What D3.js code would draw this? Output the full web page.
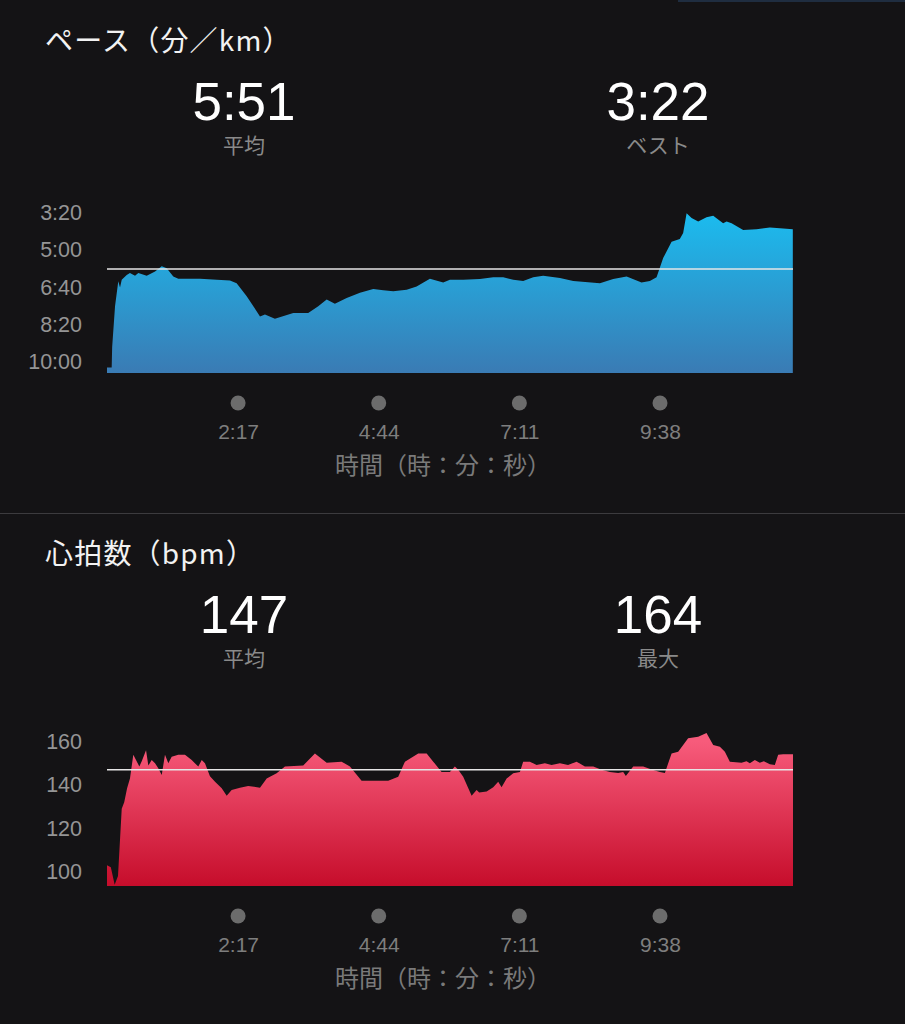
<!DOCTYPE html>
<html><head><meta charset="utf-8">
<script src="https://cdn.jsdelivr.net/npm/d3@7"></script>
<style>
html,body{margin:0;padding:0;background:#141315;}
svg{display:block;}
</style>
</head><body>
<svg id="chart" width="905" height="1024"></svg>
<script>
// ---------- data ----------
const paceTime  = [0,4.9,5.4,8.4,11.8,13.6,15.4,20.6,24,29.3,32.7,41.5,50.2,57.2,62.4,69.3,74.5,81.5,97.2,114.6,128.5,135.5,146,159.9,165.1,175.5,194.7,210.3,220.8,229.6,238.2,250.5,264.4,278.3,288.7,299.2,313.2,323.6,337.5,351.4,358.4,372.3,389.8,403.7,414.1,424.6,435,445.5,455.9,473.4,487.3,515.2,529.1,543.1,558.7,567.4,574.4,581.3,590.1,598.7,602.2,605.8,611,617.9,626.6,633.6,644,647.6,652.8,664.9,678.9,692.8,703.3,716.8];
const paceValue = [615,615,560,451,384,401,380,367,362,369,362,369,358,344,349,371,377,377,377,380,382,389,424,478,473,484,469,469,451,433,444,429,415,405,408,411,407,398,377,387,380,380,378,373,373,380,383,373,369,375,383,389,378,371,387,383,373,322,278,271,255,202,215,224,213,209,229,224,229,247,245,240,242,245];
const paceTicks = [200,300,400,500,600];
const paceAvg = 351;

const hrTime  = [0,4,8,11.5,15.4,18,21,24,27.5,31,33.8,36.3,40.8,43.2,46.7,50.2,53.6,57.2,60.6,64.1,67.6,74.5,81.5,88.5,95.4,99,102.4,107.6,112.9,119.9,125.1,130.3,139,147.6,159.9,166.9,177.3,186,205.1,217.3,229.6,245.2,253.9,266.1,293.9,304.4,311.4,325.3,334.1,341,349.7,358.4,363.6,367.1,372.3,381.1,386.3,389,396.8,403.7,408.9,412.4,417.7,424.6,431.6,435,442,449,457.7,464.7,473.4,481.9,490.8,499.5,508.2,516.9,525.6,534.3,539.5,542.3,550,560.4,569.2,577.9,583.1,590.1,597,607.4,617.9,626.6,633.6,640.6,645.8,651,663.2,668.4,671.9,677.1,682.3,686.5,692.8,698,701.5,706.7,717];
const hrValue = [103,102,94,98,129,132,138.5,143,154,151,148.5,151,156,149,151.5,150,147.7,144.6,154,150,153,154,154,151.5,148.5,151.5,150,144,141.5,138.5,135,137.7,138.8,139.6,138.8,143,145.4,148.5,149,154.6,150.3,150.8,148.5,142,142,143.8,150.8,154.6,154.6,150.8,146,146,148.5,147,143.8,135,137.7,136.5,137,139,141.5,139,143,145.4,146,150.8,150.8,149.2,150,149.2,150,149.2,150.8,148.5,148.5,147,146,145.6,146,144.2,148.5,148.5,147.2,146,145.6,154.6,155.4,161.6,162.3,164,158.5,157.7,155.4,150.8,150.3,151,150,151.5,150.3,151,149.6,149.2,154,154.2,154.2];
const hrTicks = [100,120,140,160];
const hrAvg = 147;

const timeTicks = [137,284,431,578];
const timeEnd = 717;

const sections = [
  {title:"ペース（分／km）", stats:["5:51","3:22"], statLabels:["平均","ベスト"],
   time:paceTime, values:paceValue, ticks:paceTicks, avg:paceAvg,
   domain:[200,600], range:[212.5,362], fmt:d=>Math.floor(d/60)+":"+String(d%60).padStart(2,"0"),
   grad:["#1bbcef","#3a7bb4"], id:"gPace"},
  {title:"心拍数（bpm）", stats:["147","164"], statLabels:["平均","最大"],
   time:hrTime, values:hrValue, ticks:hrTicks, avg:hrAvg,
   domain:[100,160], range:[358.7,228.7], fmt:d=>String(d),
   grad:["#f75b7b","#c60d2b"], id:"gHr"}
];

// ---------- drawing ----------
const svg = d3.select("#chart");
const FONT = "'Liberation Sans','Noto Sans CJK JP',sans-serif";
const JFONT = "'Noto Sans CJK JP','Liberation Sans',sans-serif";
const plotLeft = 107, plotRight = 793, plotBottom = 373, sectionGap = 513;

svg.append("rect").attr("width",905).attr("height",1024).attr("fill","#141315");
svg.append("rect").attr("x",678).attr("y",0).attr("width",227).attr("height",2).attr("fill","#1f2d40");
svg.append("line").attr("x1",0).attr("x2",905).attr("y1",sectionGap+0.5).attr("y2",sectionGap+0.5)
   .attr("stroke","#3c3b3e").attr("stroke-width",1);

const x = d3.scaleLinear().domain([0,timeEnd]).range([plotLeft,plotRight]);
const defs = svg.append("defs");
const fmtTime = t => Math.floor(t/60)+":"+String(t%60).padStart(2,"0");

sections.forEach((s,i)=>{
  const g = svg.append("g").attr("transform",`translate(0,${i*sectionGap})`);
  const y = d3.scaleLinear().domain(s.domain).range(s.range);
  const data = s.time.map((t,k)=>({t, v:s.values[k]}));

  // gradient in the user space of the (translated) path
  const gr = defs.append("linearGradient").attr("id",s.id)
    .attr("gradientUnits","userSpaceOnUse").attr("x1",0).attr("x2",0)
    .attr("y1",Math.min(...s.range)).attr("y2",plotBottom);
  gr.append("stop").attr("offset","0%").attr("stop-color",s.grad[0]);
  gr.append("stop").attr("offset","100%").attr("stop-color",s.grad[1]);

  // title
  g.append("text").attr("x",45).attr("y",51).attr("fill","#f2f2f2")
    .attr("font-family",JFONT).attr("font-size",28).attr("letter-spacing",1.2).text(s.title);
  // stats
  [244,658].forEach((cx,k)=>{
    g.append("text").attr("x",cx).attr("y",120).attr("text-anchor","middle")
      .attr("fill","#ffffff").attr("font-family",FONT).attr("font-size",53).text(s.stats[k]);
    g.append("text").attr("x",cx).attr("y",153).attr("text-anchor","middle")
      .attr("fill","#8a8a8a").attr("font-family",JFONT).attr("font-size",21).text(s.statLabels[k]);
  });

  // y axis labels
  const yAxis = d3.axisLeft(y).tickValues(s.ticks).tickFormat(s.fmt).tickSize(0).tickPadding(0);
  const ya = g.append("g").attr("transform",`translate(82,0)`).call(yAxis);
  ya.select(".domain").remove();
  ya.selectAll("text").attr("fill","#959595").attr("font-family",FONT).attr("font-size",21.5);

  // area
  const area = d3.area().x(d=>x(d.t)).y0(plotBottom).y1(d=>y(d.v));
  g.append("path").datum(data).attr("d",area).attr("fill",`url(#${s.id})`);

  // average line
  g.append("line").attr("x1",plotLeft).attr("x2",plotRight)
    .attr("y1",y(s.avg)).attr("y2",y(s.avg)).attr("stroke","#e6e6e6").attr("stroke-width",1.5);

  // x axis: dots + labels
  const xa = g.append("g");
  xa.selectAll("circle").data(timeTicks).join("circle")
    .attr("cx",d=>x(d)).attr("cy",403).attr("r",7.5).attr("fill","#6c6c6c");
  const xAxis = d3.axisBottom(x).tickValues(timeTicks).tickFormat(fmtTime).tickSize(0).tickPadding(0);
  const xg = g.append("g").attr("transform","translate(0,424)").call(xAxis);
  xg.select(".domain").remove();
  xg.selectAll("text").attr("fill","#7e7e7e").attr("font-family",FONT).attr("font-size",21)
    .attr("dy","0.71em").attr("y",0);
  g.append("text").attr("x",443).attr("y",474).attr("text-anchor","middle")
    .attr("fill","#7a7a7a").attr("font-family",JFONT).attr("font-size",24).text("時間（時：分：秒）");
});
</script>
</body></html>
